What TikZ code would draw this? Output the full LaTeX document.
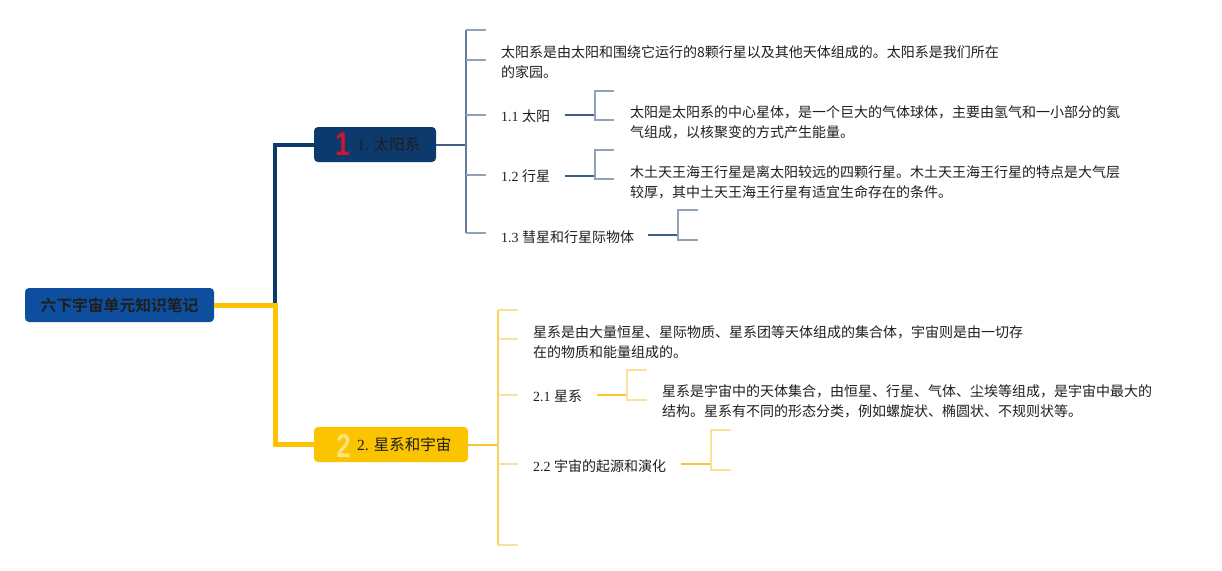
\documentclass[tikz,border=0pt]{standalone}
\usepackage{fontspec}
\setmainfont{Liberation Serif}
\setsansfont{Liberation Sans}
\newfontfamily\cjk[BoldFont={Noto Sans CJK SC Bold}]{Noto Sans CJK SC}
\definecolor{rootblue}{HTML}{0D4F9E}
\definecolor{navy}{HTML}{0D3A6C}
\definecolor{gold}{HTML}{FBC300}
\definecolor{bline}{HTML}{3E5E86}
\definecolor{bvert}{HTML}{647C9C}
\definecolor{btick}{HTML}{8FA2BA}
\definecolor{yline}{HTML}{F8C72E}
\definecolor{yvert}{HTML}{F8D25C}
\definecolor{ytick}{HTML}{FBE09A}
\definecolor{txt}{HTML}{1E1E1E}
\definecolor{numred}{HTML}{D3142E}
\definecolor{numyel}{HTML}{FDE27C}
\begin{document}
\begin{tikzpicture}[x=1pt,y=-1pt,
  topbox/.style={rounded corners=4pt, minimum height=35pt, inner sep=0pt},
  desc/.style={anchor=west, align=left, inner sep=0pt, text=txt, font=\cjk\fontsize{14}{20}\selectfont},
  sublabel/.style={anchor=west, inner sep=0pt, text=txt, font=\fontsize{14}{20}\selectfont},
  bignum/.style={inner sep=0pt, xscale=0.78, transform shape, font=\sffamily\bfseries\fontsize{33}{33}\selectfont},
  toptext/.style={anchor=west, inner sep=0pt, text=txt, font=\fontsize{15.5}{18}\selectfont},
  bluelink/.style={draw=bline, line width=2pt},
  bluetick/.style={draw=btick, line width=1.5pt},
  bluevert/.style={draw=bvert, line width=1.6pt},
  yellowlink/.style={draw=yline, line width=2pt},
  yellowtick/.style={draw=ytick, line width=1.5pt},
  yellowvert/.style={draw=yvert, line width=1.6pt}]
\useasboundingbox (0,0) rectangle (1222,570);

% main nodes
\node[topbox, fill=rootblue, minimum width=189pt, minimum height=34pt, text=txt] (root) at (119.5,305)
  {\cjk\bfseries\fontsize{15.8}{18}\selectfont 六下宇宙单元知识笔记};
\node[topbox, fill=navy, minimum width=122pt] (n1) at (375,144.5) {};
\node[topbox, fill=gold, minimum width=154pt] (n2) at (391,444.5) {};
\node[bignum, text=numred] (n1num) at (342.5,144.5) {1};
\node[toptext] (n1txt) at (357,145) {1. {\cjk 太阳系}};
\node[bignum, text=numyel] (n2num) at (343.5,445.5) {2};
\node[toptext] (n2txt) at (357,445) {2. {\cjk 星系和宇宙}};

% root connectors
\coordinate (jr) at (275,305);
\draw[navy, line width=4pt] (root.east) -- (jr) |- (n1.west);
\draw[gold, line width=5pt] (root.east) -- (jr) |- (n2.west);

% ---------- branch 1 ----------
\coordinate (v1) at (466,144.5);
\draw[bluelink] (n1.east) -- (v1);
\draw[bluevert] (466,30) -- (466,233);
\foreach \y in {30,60,115,175,233} \draw[bluetick] (466,\y) -- (486,\y);

\node[desc] (t0) at (501,62) {太阳系是由太阳和围绕它运行的8颗行星以及其他天体组成的。太阳系是我们所在\\的家园。};

\node[sublabel] (s11) at (501,116) {1.1 {\cjk 太阳}};
\coordinate (l11) at (565,114.5); \coordinate (b11) at (595,114.5);
\draw[bluelink] (l11) -- (b11);
\draw[bluetick] (614,91) -- (595,91) -- (595,120) -- (614,120);
\node[desc] (d11) at (630,122) {太阳是太阳系的中心星体，是一个巨大的气体球体，主要由氢气和一小部分的氦\\气组成，以核聚变的方式产生能量。};

\node[sublabel] (s12) at (501,176) {1.2 {\cjk 行星}};
\coordinate (l12) at (565,176); \coordinate (b12) at (595,176);
\draw[bluelink] (l12) -- (b12);
\draw[bluetick] (614,150) -- (595,150) -- (595,179) -- (614,179);
\node[desc] (d12) at (630,182) {木土天王海王行星是离太阳较远的四颗行星。木土天王海王行星的特点是大气层\\较厚，其中土天王海王行星有适宜生命存在的条件。};

\node[sublabel] (s13) at (501,237) {1.3 {\cjk 彗星和行星际物体}};
\coordinate (l13) at (648,235); \coordinate (b13) at (678,235);
\draw[bluelink] (l13) -- (b13);
\draw[bluetick] (698,210) -- (678,210) -- (678,240) -- (698,240);

% ---------- branch 2 ----------
\coordinate (v2) at (498,444.5);
\draw[yellowlink] (n2.east) -- (v2);
\draw[yellowvert] (498,310) -- (498,545);
\foreach \y in {310,339,395,464,545} \draw[yellowtick] (498,\y) -- (518,\y);

\node[desc] (t2) at (533,342) {星系是由大量恒星、星际物质、星系团等天体组成的集合体，宇宙则是由一切存\\在的物质和能量组成的。};

\node[sublabel] (s21) at (533,396) {2.1 {\cjk 星系}};
\coordinate (l21) at (597,395); \coordinate (b21) at (627,395);
\draw[yellowlink] (l21) -- (b21);
\draw[yellowtick] (647,370) -- (627,370) -- (627,400) -- (647,400);
\node[desc] (d21) at (662,401.5) {星系是宇宙中的天体集合，由恒星、行星、气体、尘埃等组成，是宇宙中最大的\\结构。星系有不同的形态分类，例如螺旋状、椭圆状、不规则状等。};

\node[sublabel] (s22) at (533,466) {2.2 {\cjk 宇宙的起源和演化}};
\coordinate (l22) at (681,464); \coordinate (b22) at (711,464);
\draw[yellowlink] (l22) -- (b22);
\draw[yellowtick] (731,430) -- (711,430) -- (711,470) -- (731,470);
\end{tikzpicture}
\end{document}
